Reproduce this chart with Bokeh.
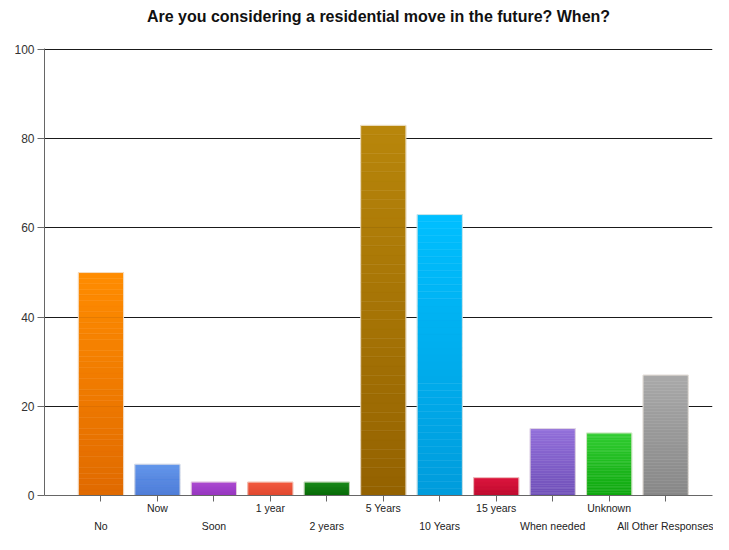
import numpy as np
from bokeh.plotting import figure
from bokeh.models import Range1d, FixedTicker, LinearAxis, ColumnDataSource
from bokeh.embed import file_html
from bokeh.resources import INLINE

categories = ["No", "Now", "Soon", "1 year", "2 years", "5 Years", "10 Years",
              "15 years", "When needed", "Unknown", "All Other Responses"]
values = [50, 7, 3, 3, 3, 83, 63, 4, 15, 14, 27]
top_colors = ["#FF8C00", "#5E92EA", "#AC4AD2", "#F25A40", "#1A8A1A", "#B8860B",
              "#00BFFF", "#DC143C", "#9370DB", "#32CD32", "#A9A9A9"]
bottom_colors = ["#E06A00", "#4878D6", "#9636BE", "#E04830", "#086808", "#946200",
                 "#009CDC", "#BE0A2E", "#7050B8", "#10A810", "#878787"]
y_ticks = [0, 20, 40, 60, 80, 100]
title_text = "Are you considering a residential move in the future? When?"

FONT = "Liberation Sans"

def hex2rgb(h):
    h = h.lstrip("#")
    return np.array([int(h[i:i + 2], 16) for i in (0, 2, 4)], dtype=float)

def rgb2hex(c):
    return "#%02x%02x%02x" % tuple(int(round(v)) for v in c)

# gradient strips derived from the values
N = 40
xs, bots, tops, cols = [], [], [], []
for i, v in enumerate(values):
    ct, cb = hex2rgb(top_colors[i]), hex2rgb(bottom_colors[i])
    for k in range(N):
        f = (k + 0.5) / N
        xs.append(i)
        bots.append(v * k / N)
        tops.append(v * (k + 1) / N)
        cols.append(rgb2hex(cb + (ct - cb) * f))

W, H = 713, 534

p = figure(width=W, height=H, output_backend="svg", toolbar_location=None,
           x_range=Range1d(-1, 10.83), y_range=Range1d(0, 100.25),
           min_border_left=44, min_border_right=1, min_border_top=48,
           min_border_bottom=0)
p.outline_line_color = None
p.background_fill_color = "white"
p.border_fill_color = "white"

p.title.text = title_text
p.title.text_font = FONT
p.title.text_font_size = "16px"
p.title.text_font_style = "bold"
p.title.text_color = "#111111"
p.title.align = "center"
p.title.vertical_align = "bottom"
p.title.offset = -16
p.title.standoff = 2

p.xgrid.visible = False
p.ygrid.grid_line_color = "#1a1a1a"
p.ygrid.grid_line_width = 1

# y axis
ya = p.left[0]
ya.ticker = FixedTicker(ticks=y_ticks)
ya.major_tick_out = 7
ya.major_tick_in = 0
ya.minor_tick_line_color = None
ya.axis_line_color = "#666666"
ya.major_tick_line_color = "#666666"
ya.major_label_text_font = FONT
ya.major_label_text_font_size = "12px"
ya.major_label_text_color = "#333333"
ya.major_label_standoff = 3

# x axis row 1
xa = p.below[0]
xa.ticker = FixedTicker(ticks=list(range(len(categories))))
xa.major_label_overrides = {i: (categories[i] if i % 2 else "") for i in range(len(categories))}
xa.major_tick_out = 6
xa.major_tick_in = 0
xa.minor_tick_line_color = None
xa.axis_line_color = "#666666"
xa.major_tick_line_color = "#666666"
xa.major_label_text_font = FONT
xa.major_label_text_font_size = "10.5px"
xa.major_label_text_color = "#222222"
xa.major_label_standoff = 0

# x axis row 2
xb = LinearAxis(ticker=FixedTicker(ticks=[i for i in range(len(categories)) if i % 2 == 0]),
                major_label_overrides={i: categories[i] for i in range(0, len(categories), 2)})
xb.major_tick_out = 0
xb.major_tick_in = 0
xb.minor_tick_line_color = None
xb.axis_line_color = None
xb.major_tick_line_color = None
xb.major_label_text_font = FONT
xb.major_label_text_font_size = "10.5px"
xb.major_label_text_color = "#222222"
xb.major_label_standoff = 3
p.add_layout(xb, "below")

# invisible spacer between the frame and the title
spacer = LinearAxis(ticker=FixedTicker(ticks=[0]), major_label_overrides={0: ""},
                    major_tick_out=23, major_tick_in=0,
                    axis_line_color=None, major_tick_line_color=None,
                    minor_tick_line_color=None, major_label_standoff=0)
p.add_layout(spacer, "above")

src = ColumnDataSource(dict(x=xs, bottom=bots, top=tops, color=cols))
p.vbar(x="x", bottom="bottom", top="top", width=0.8, source=src,
       fill_color="color", line_color="color", line_width=0.5)

src2 = ColumnDataSource(dict(x=list(range(len(categories))), top=values))
p.vbar(x="x", bottom=0, top="top", width=0.8, source=src2,
       fill_color=None, line_color="#f4ece4", line_width=1, line_alpha=0.8)

open("out.html", "w").write(file_html(p, INLINE))
